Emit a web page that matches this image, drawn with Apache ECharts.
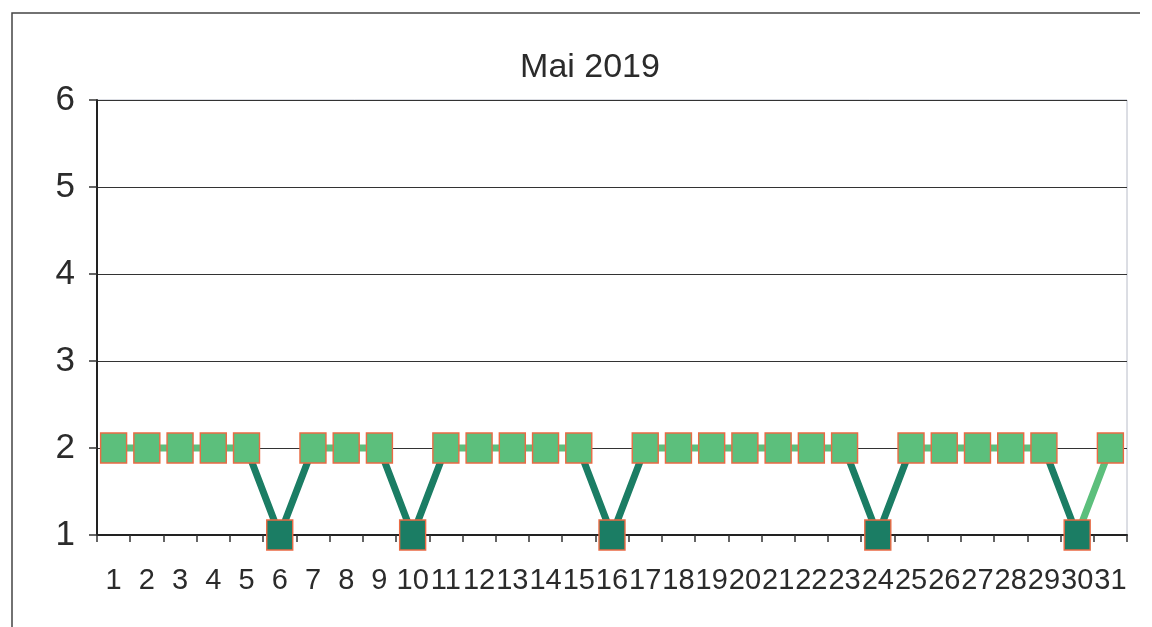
<!DOCTYPE html>
<html>
<head>
<meta charset="utf-8">
<script src="https://cdn.jsdelivr.net/npm/echarts@6/dist/echarts.min.js"></script>
<style>
  html, body { margin: 0; padding: 0; background: #fff; }
  #main { width: 1152px; height: 627px; }
</style>
</head>
<body>
<div id="main"></div>
<script>
// jours du mois
var days = [];
for (var d = 1; d <= 31; d++) days.push(String(d));
// valeurs
var values = [2,2,2,2,2,1,2,2,2,1, 2,2,2,2,2,1,2,2,2,2, 2,2,2,1,2,2,2,2,2,1, 2];
var yTicks = [1, 2, 3, 4, 5, 6];

var darkGreen = '#1b7d64';
var lightGreen = '#5cbf7c';
var font = '"Liberation Sans", Arial, sans-serif';

// segments foncés (index de catégorie)
var darkRanges = [[4, 6], [8, 10], [14, 16], [22, 24], [28, 29]];

var pieces = darkRanges.map(function (r) {
  return { gte: r[0], lte: r[1], color: darkGreen };
});

var myChart = echarts.init(document.getElementById('main'));
var option = {
  animation: false,
  backgroundColor: '#fff',
  title: {
    text: 'Mai 2019',
    left: 585,
    top: 46,
    textAlign: 'center',
    textStyle: { fontFamily: font, fontSize: 34, fontWeight: 'normal', color: '#2b2b2b' }
  },
  grid: {
    left: 97, right: 25, top: 100, bottom: 92,
    show: true, borderColor: '#b8bcc8', borderWidth: 1
  },
  xAxis: {
    type: 'category',
    data: days,
    boundaryGap: true,
    axisLine: { lineStyle: { color: '#222', width: 2 } },
    axisTick: { show: true, length: 7, lineStyle: { color: '#333', width: 1.5 } },
    axisLabel: {
      interval: 0, margin: 31,
      fontFamily: font, fontSize: 29, color: '#2b2b2b'
    }
  },
  yAxis: {
    type: 'value',
    min: yTicks[0], max: yTicks[yTicks.length - 1], interval: 1,
    axisLine: { show: true, lineStyle: { color: '#222', width: 2 } },
    axisTick: { show: true, length: 8, lineStyle: { color: '#333', width: 1.5 } },
    axisLabel: { margin: 22, fontFamily: font, fontSize: 35, color: '#2b2b2b' },
    splitLine: { lineStyle: { color: '#333', width: 1.2 } }
  },
  visualMap: {
    type: 'piecewise',
    show: false,
    dimension: 0,
    seriesIndex: 0,
    pieces: pieces,
    outOfRange: { color: lightGreen }
  },
  series: [
    {
      type: 'line',
      data: values,
      showSymbol: false,
      lineStyle: { width: 7 },
      z: 2
    },
    {
      type: 'line',
      data: values,
      symbol: 'rect',
      symbolSize: [26, 30],
      lineStyle: { width: 0, opacity: 0 },
      itemStyle: {
        color: function (p) { return p.value === 1 ? darkGreen : lightGreen; },
        borderColor: '#ea6a44',
        borderWidth: 1.5
      },
      z: 3
    }
  ],
  graphic: [
    {
      type: 'polyline',
      shape: { points: [[12, 627], [12, 13], [1140, 13]] },
      style: { stroke: '#444', lineWidth: 1.5, fill: null }
    }
  ]
};
myChart.setOption(option);
</script>
</body>
</html>
